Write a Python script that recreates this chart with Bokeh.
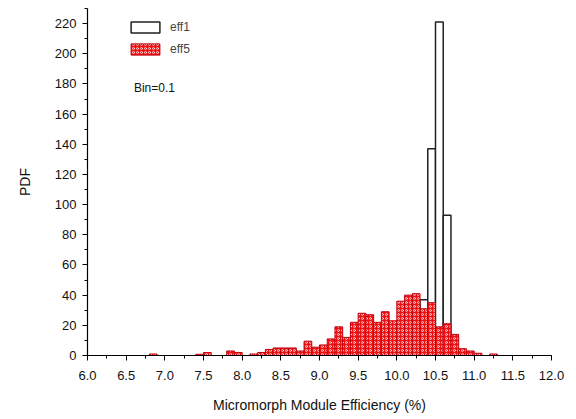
from bokeh.plotting import figure
from bokeh.models import Range1d, SingleIntervalTicker, Legend, LegendItem, Label, PrintfTickFormatter
from bokeh.embed import file_html
from bokeh.resources import INLINE

BIN = 0.1

# eff1 histogram (bin lower edges, PDF values)
eff1_left = [10.3, 10.4, 10.5, 10.6]
eff1_pdf = [37, 137, 221, 93]

# eff5 histogram (bin lower edges, PDF values)
eff5_left = [6.8, 7.4, 7.5, 7.8, 7.9, 8.1, 8.2, 8.3, 8.4, 8.5, 8.6, 8.7, 8.8, 8.9,
             9.0, 9.1, 9.2, 9.3, 9.4, 9.5, 9.6, 9.7, 9.8, 9.9, 10.0, 10.1, 10.2,
             10.3, 10.4, 10.5, 10.6, 10.7, 10.8, 10.9, 11.0, 11.2]
eff5_pdf = [1, 0.8, 2, 3, 2, 1, 2, 4, 5, 5, 5, 3, 9.5, 5.5,
            7, 11, 19, 12, 22, 28, 27, 22, 29, 23, 36, 40, 41,
            31, 35, 19, 21, 14, 4.5, 3, 1.5, 1]

FONT = "Liberation Sans"

p = figure(frame_width=464, frame_height=347, output_backend="svg", toolbar_location=None,
           x_range=Range1d(6.0, 12.0), y_range=Range1d(0, 230),
           min_border_left=87, min_border_right=25, min_border_top=8, min_border_bottom=64)
p.outline_line_color = None
p.xgrid.visible = False
p.ygrid.visible = False
p.background_fill_color = "white"
p.border_fill_color = "white"

r1 = p.quad(left=eff1_left, right=[v + BIN for v in eff1_left], bottom=0, top=eff1_pdf,
            fill_color="white", line_color="#222222", line_width=1.5)
r5 = p.quad(left=eff5_left, right=[v + BIN for v in eff5_left], bottom=0, top=eff5_pdf,
            fill_color="#ee1111", line_color="#c00010", line_width=1,
            hatch_pattern="ring", hatch_color="white", hatch_scale=4, hatch_weight=1, hatch_alpha=0.7)

for ax in (p.xaxis[0], p.yaxis[0]):
    ax.axis_line_color = "black"
    ax.axis_line_width = 1.2
    ax.major_tick_line_color = "black"
    ax.minor_tick_line_color = "black"
    ax.major_tick_out = 5
    ax.major_tick_in = 0
    ax.minor_tick_out = 3
    ax.minor_tick_in = 0
    ax.major_label_text_font = FONT
    ax.major_label_text_font_size = "13px"
    ax.major_label_text_color = "#111111"
    ax.axis_label_text_font = FONT
    ax.axis_label_text_font_size = "14px"
    ax.axis_label_text_font_style = "normal"
    ax.axis_label_text_color = "#111111"

p.xaxis.ticker = SingleIntervalTicker(interval=0.5, num_minor_ticks=2)
p.xaxis.formatter = PrintfTickFormatter(format="%.1f")
p.xaxis.major_label_standoff = 10
p.xaxis.axis_label = "Micromorph Module Efficiency (%)"
p.xaxis.axis_label_standoff = 14

p.yaxis.ticker = SingleIntervalTicker(interval=20, num_minor_ticks=2)
p.yaxis.major_label_standoff = 6
p.yaxis.axis_label = "PDF"
p.yaxis.axis_label_standoff = 19

legend = Legend(items=[LegendItem(label="eff1", renderers=[r1]),
                       LegendItem(label="eff5", renderers=[r5])],
                location=(40, 299), padding=0, margin=0, spacing=8,
                glyph_width=36, glyph_height=14, label_height=14, label_standoff=7,
                label_text_font=FONT, label_text_font_size="12px",
                border_line_color=None, background_fill_alpha=0)
p.add_layout(legend)

p.add_layout(Label(x=6.6, y=177, text="Bin=0.1", text_font=FONT, text_font_size="12px",
                   text_baseline="middle", text_color="#111111"))

open("out.html", "w").write(file_html(p, INLINE))
